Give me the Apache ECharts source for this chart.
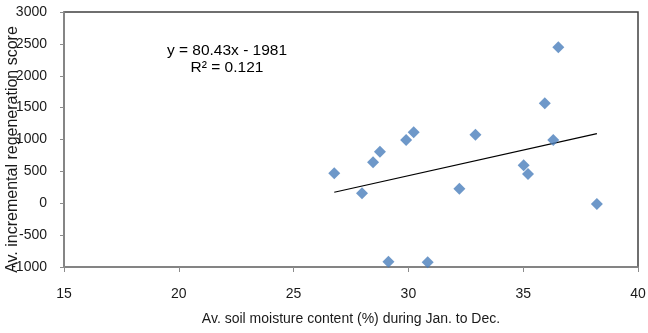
<!DOCTYPE html>
<html><head><meta charset="utf-8">
<script src="https://cdn.jsdelivr.net/npm/echarts@6/dist/echarts.min.js"></script>
<style>html,body{margin:0;padding:0;background:#fff}#c{width:648px;height:333px}</style>
</head><body><div id="c"></div>
<script>
const moisture = [26.77, 27.98, 28.46, 28.76, 29.13, 29.9, 30.23, 30.84, 32.22, 32.92, 35.02, 35.21, 35.94, 36.31, 36.53, 38.21];
const regenScore = [470, 156, 643, 809, -917, 992, 1112, -927, 229, 1076, 595, 459, 1568, 992, 2446, -12];
const trendSlope = 80.43;
const trendIntercept = -1981;
const trendX = [26.77, 38.21];
const xTicks = [15, 20, 25, 30, 35, 40];
const yTicks = [-1000, -500, 0, 500, 1000, 1500, 2000, 2500, 3000];

const chart = echarts.init(document.getElementById('c'), null, {renderer: 'canvas'});
const font = 'Liberation Sans, Arial, sans-serif';
chart.setOption({
  animation: false,
  grid: {left: 64, top: 12, right: 10, bottom: 66, show: true, borderColor: '#404040', borderWidth: 1.5, containLabel: false, outerBoundsMode: 'none'},
  xAxis: {
    type: 'value', min: xTicks[0], max: xTicks[xTicks.length - 1], interval: 5,
    name: 'Av. soil moisture content (%) during Jan. to Dec.',
    nameLocation: 'middle', nameGap: 45, nameMoveOverlap: false,
    nameTextStyle: {fontFamily: font, fontSize: 14, color: '#1a1a1a'},
    axisLine: {show: true, onZero: false, lineStyle: {color: '#8c8c8c', width: 1.5}},
    axisTick: {show: true, length: 5, lineStyle: {color: '#8c8c8c'}},
    axisLabel: {fontFamily: font, fontSize: 14, color: '#1a1a1a', margin: 20, formatter: v => String(v)},
    splitLine: {show: false}
  },
  yAxis: {
    type: 'value', min: yTicks[0], max: yTicks[yTicks.length - 1], interval: 500,
    name: 'Av. incremental regeneration score',
    nameLocation: 'middle', nameGap: 43, nameMoveOverlap: false,
    nameTextStyle: {fontFamily: font, fontSize: 16, color: '#1a1a1a', padding: [0, 20, 0, 0]},
    axisLine: {show: true, onZero: false, lineStyle: {color: '#8c8c8c', width: 1.5}},
    axisTick: {show: true, length: 4, lineStyle: {color: '#8c8c8c'}},
    axisLabel: {fontFamily: font, fontSize: 14, color: '#1a1a1a', margin: 17, formatter: v => String(v)},
    splitLine: {show: false}
  },
  series: [
    {
      type: 'scatter', symbol: 'diamond', symbolSize: 12,
      itemStyle: {color: '#4a7ebb'},
      data: moisture.map((x, i) => [x, regenScore[i]]),
      z: 3
    },
    {
      type: 'line', symbol: 'none', silent: true,
      lineStyle: {color: '#000', width: 1.2},
      data: trendX.map(x => [x, trendSlope * x + trendIntercept]),
      z: 2
    }
  ],
  graphic: [
    {type: 'text', x: 227, y: 51, style: {text: 'y = 80.43x - 1981', font: '15.5px ' + font, fill: '#000', align: 'center', verticalAlign: 'middle'}},
    {type: 'text', x: 227, y: 68, style: {text: 'R² = 0.121', font: '15.5px ' + font, fill: '#000', align: 'center', verticalAlign: 'middle'}}
  ]
});
</script></body></html>
